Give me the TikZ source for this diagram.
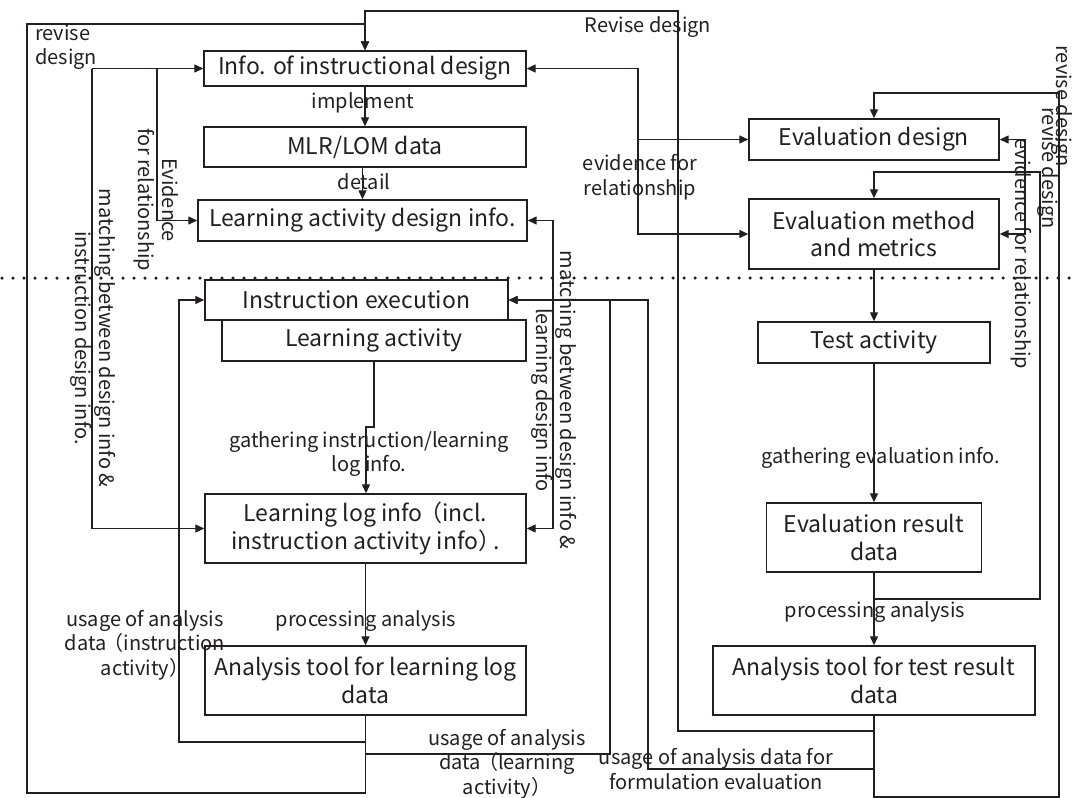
\documentclass[tikz,border=0pt]{standalone}
\usepackage{fontspec}
\setmainfont{Noto Sans CJK JP}
\usetikzlibrary{arrows.meta}
\definecolor{ink}{HTML}{231F20}
\begin{document}
\begin{tikzpicture}[x=1pt,y=-1pt,
  box/.style={draw=ink, line width=1.4pt, inner sep=0pt, align=center, text=ink, font=\fontsize{23}{27.5}\selectfont},
  lbl/.style={text=ink, align=center, inner sep=0pt, font=\fontsize{20}{24.5}\selectfont},
  con/.style={draw=ink, line width=1.3pt},
  arr/.style={con, -{Triangle[width=8pt,length=9pt]}},
  barr/.style={con, {Triangle[width=8pt,length=9pt]}-{Triangle[width=8pt,length=9pt]}},
]
\useasboundingbox (0,0) rectangle (1072,798);

% boxes
\node[box, minimum width=322pt, minimum height=35pt] (info) at (365,68.5) {Info. of instructional design};
\node[box, minimum width=322pt, minimum height=40pt] (mlr) at (365,147) {MLR/LOM data};
\node[box, minimum width=329pt, minimum height=41pt] (lad) at (362.5,220.5) {Learning activity design info.};
\node[box, minimum width=303pt, minimum height=40pt] (ie) at (356.5,300) {Instruction execution};
\node[box, minimum width=304pt, minimum height=41pt] (la) at (374,340.5) {Learning activity};
\node[box, minimum width=321pt, minimum height=69pt] (llog) at (365.5,528.5) {Learning log info\kern-0.15em（incl.\\instruction activity info）\kern-0.35em.};
\node[box, minimum width=321pt, minimum height=69pt] (atl) at (365.5,680.5) {Analysis tool for learning log\\data};
\node[box, minimum width=250pt, minimum height=41pt] (ed) at (874,139.5) {Evaluation design};
\node[box, minimum width=250pt, minimum height=70pt] (em) at (874,234) {Evaluation method\\and metrics};
\node[box, minimum width=232pt, minimum height=41pt] (ta) at (874,342.5) {Test activity};
\node[box, minimum width=215pt, minimum height=69pt] (er) at (874,537.5) {Evaluation result\\data};
\node[box, minimum width=322pt, minimum height=69pt] (att) at (874,680.5) {Analysis tool for test result\\data};

% dotted separator
\draw[ink, line width=3.5pt, line cap=round, dash pattern=on 0pt off 11pt] (2,278) -- (1072,278);

% coordinates
\coordinate (rdA) at (678,731);
\coordinate (rdB) at (678,11);
\coordinate (lpA) at (27,793);
\coordinate (lpB) at (27,24);
\coordinate (uiA) at (179,742);
\coordinate (ulA) at (610,754);
\coordinate (ufA) at (648,769);
\coordinate (orA) at (1059,797);
\coordinate (orB) at (1059,93);
\coordinate (srA) at (874,599);
\coordinate (srB) at (1040,172);
\coordinate (meB) at (638,234);
\coordinate (meC) at (638,139.5);
\coordinate (reA) at (1025,139.5);
\coordinate (reB) at (1025,234);
\coordinate (lmA) at (92,68.5);
\coordinate (lmB) at (92,528.5);
\coordinate (leA) at (157,68.5);
\coordinate (leB) at (157,220.5);
\coordinate (rmA) at (553,220.5);
\coordinate (rmB) at (553,528.5);
\coordinate (gB) at (366,427);

% connectors
\draw[arr] (info.south) -- (mlr.north);
\draw[arr] (lad.north |- mlr.south) -- (lad.north);
\draw[arr] (la.south) |- (gB) -- (gB |- llog.north);
\draw[arr] (llog.south) -- (atl.north);
\draw[arr] (em.south) -- (ta.north);
\draw[arr] (ta.south) -- (er.north);
\draw[arr] (er.south) -- (att.north);

\draw[arr] (att.south) |- (rdA) -- (rdB) -| (info.north);
\draw[arr] (atl.south) |- (lpA) -- (lpB) -| (info.north);
\draw[arr] (atl.south) |- (uiA) |- (ie.west);
\draw[arr] (atl.south) |- (ulA) |- (ie.east);
\draw[arr] (att.south) |- (ufA) |- (ie.east);
\draw[arr] (att.south) |- (orA) -- (orB) -| (ed.north);
\draw[arr] (srA) -| (srB) -| (em.north);

\draw[barr] (info.east) -| (meB) -- (em.west);
\draw[arr] (meC) -- (ed.west);
\draw[barr] (ed.east) -- (reA) -- (reB) -- (em.east);

\draw[arr] (lmA) -- (info.west);
\draw[arr] (lmA) -- (lmB) -- (llog.west);
\draw[arr] (leA) -- (leB) -- (lad.west);
\draw[barr] (lad.east) -- (rmA) -- (rmB) -- (llog.east);

% labels
\node[lbl, align=left, anchor=west] (t1) at (35,47) {revise\\design};
\node[lbl] (t2) at (648,27) {Revise design};
\node[lbl] (t3) at (363,103) {implement};
\node[lbl] (t4) at (364,182) {detail};
\node[lbl] (t5) at (640,177) {evidence for\\relationship};
\node[lbl, rotate=-90] (t6) at (156,200) {Evidence\\for relationship};
\node[lbl, rotate=-90] (t7) at (93,338) {matching between design info \&\\instruction design info.};
\node[lbl, rotate=-90] (t8) at (554,400) {matching between design info \&\\learning design info};
\node[lbl] (t9) at (369,454) {gathering instruction/learning\\log info.};
\node[lbl] (t10) at (366,621) {processing analysis};
\node[lbl] (t11) at (875,612) {processing analysis};
\node[lbl] (t12) at (145,645) {usage of analysis\\data\kern-0.15em（instruction\\activity）};
\node[lbl] (t13) at (507,764) {usage of analysis\\data\kern-0.15em（learning\\activity）};
\node[lbl] (t14) at (716,769) {usage of analysis data for\\formulation evaluation};
\node[lbl] (t15) at (881,458) {gathering evaluation info.};
\node[lbl, rotate=-90] (t16) at (1062,106) {revise design};
\node[lbl, rotate=-90] (t17) at (1048,168) {revise design};
\node[lbl, rotate=-90] (t18) at (1021,254) {evidence for relationship};
\end{tikzpicture}
\end{document}
